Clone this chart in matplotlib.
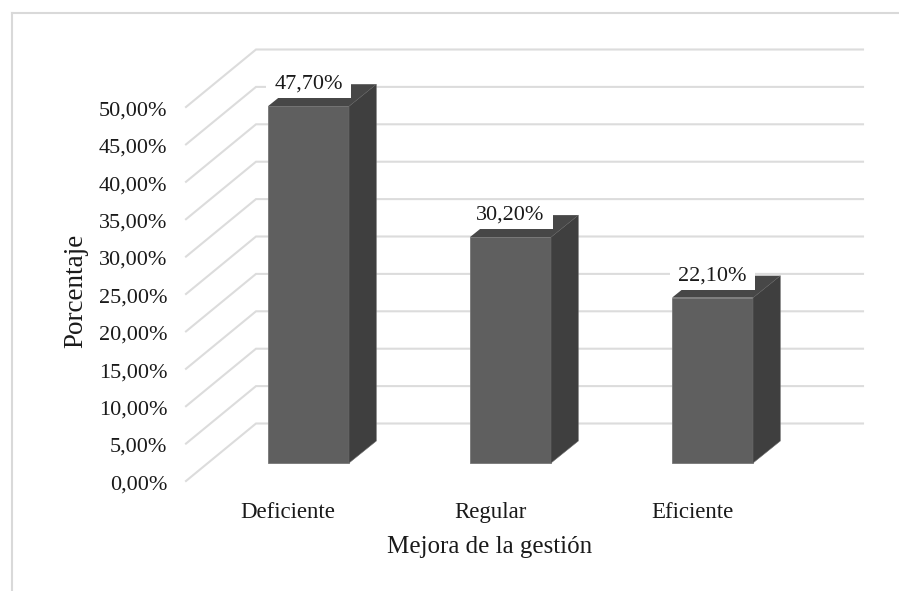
import matplotlib
matplotlib.use("Agg")
import matplotlib.pyplot as plt
from matplotlib.lines import Line2D
from matplotlib.patches import Polygon, Rectangle
from matplotlib.transforms import ScaledTranslation

categories = ["Deficiente", "Regular", "Eficiente"]
values = [47.7, 30.2, 22.1]
value_labels = ["47,70%", "30,20%", "22,10%"]
y_ticks = [0, 5, 10, 15, 20, 25, 30, 35, 40, 45, 50]
y_tick_labels = ["0,00%", "5,00%", "10,00%", "15,00%", "20,00%", "25,00%",
                 "30,00%", "35,00%", "40,00%", "45,00%", "50,00%"]
x_title = "Mejora de la gestión"
y_title = "Porcentaje"

W, H = 899, 591
FACE, SIDE, TOP = "#5f5f5f", "#3f3f3f", "#474747"
GRID = "#dcdcdc"
TEXT = "#1a1a1a"
FONT = "Liberation Serif"

# Axes rectangle in pixels; y runs along the front edge of the floor
left, right, bottom, top = 186, 863, 481, 49.5
px_x = 202.0   # pixels per category
px_y = 7.48    # pixels per percentage point
first_bar = 308.5

fig = plt.figure(figsize=(W / 100, H / 100), dpi=100, facecolor="white")
ax = fig.add_axes([left / W, 1 - bottom / H, (right - left) / W, (bottom - top) / H])
ax.set_xlim((left - first_bar) / px_x, (right - first_bar) / px_x)
ax.set_ylim(0, (bottom - top) / px_y)
for spine in ax.spines.values():
    spine.set_visible(False)
ax.patch.set_visible(False)

# Oblique projection of the depth axis
wall_dx, wall_dy = 70 / px_x, 57.5 / px_y
bar_dx, bar_dy = 27.3 / px_x, 22 / px_y
bar_lift = 18 / px_y
bar_width = 81 / px_x

# Gridlines: side wall, then back wall
x0, x1 = ax.get_xlim()
for v in y_ticks:
    ax.plot([x0, x0 + wall_dx, x1], [v, v + wall_dy, v + wall_dy],
            color=GRID, lw=1.5, clip_on=False, zorder=1, solid_joinstyle="miter")

# Three visible faces of each bar
positions = range(len(categories))
ax.bar(positions, values, width=bar_width, bottom=bar_lift, color=FACE,
       edgecolor="#777777", linewidth=0.6, zorder=3)
for i, v in zip(positions, values):
    xl, xr = i - bar_width / 2, i + bar_width / 2
    yb, yt = bar_lift, bar_lift + v
    ax.add_patch(Polygon([(xr, yb), (xr + bar_dx, yb + bar_dy),
                          (xr + bar_dx, yt + bar_dy), (xr, yt)],
                         closed=True, facecolor=SIDE, edgecolor="#6a6a6a",
                         linewidth=0.4, zorder=3, clip_on=False))
    ax.add_patch(Polygon([(xl, yt), (xl + bar_dx, yt + bar_dy),
                          (xr + bar_dx, yt + bar_dy), (xr, yt)],
                         closed=True, facecolor=TOP, edgecolor="none",
                         zorder=3, clip_on=False))

# Value labels on white boxes, straddling the bar tops
box_w, box_h, box_gap = 85 / px_x, 28 / px_y, 8 / px_y
for i, v, s in zip(positions, values, value_labels):
    yt = bar_lift + v
    ax.add_patch(Rectangle((i - box_w / 2, yt + box_gap), box_w, box_h,
                           facecolor="white", edgecolor="none", zorder=4,
                           clip_on=False))
    ax.annotate(s, (i, yt), xytext=(0, 15.6), textcoords="offset points",
                ha="center", va="center", family=FONT, fontsize=16, color=TEXT,
                zorder=5, annotation_clip=False)

ax.set_yticks(y_ticks)
ax.set_yticklabels(y_tick_labels, family=FONT, fontsize=16, color=TEXT)
# Category labels follow the bars' footprint on the floor
label_shift = -20.5 / px_x
ax.set_xticks([i + label_shift for i in positions])
ax.set_xticklabels(categories, family=FONT, fontsize=16.5, color=TEXT)
ax.tick_params(axis="y", length=0, pad=13.3)
ax.tick_params(axis="x", length=0, pad=15)

# Value tick labels sit slightly below their gridline ends
nudge = ScaledTranslation(0, -1 / 72, fig.dpi_scale_trans)
for lab in ax.get_yticklabels():
    lab.set_transform(lab.get_transform() + nudge)

fig.text(490 / W, 1 - 547 / H, x_title, ha="center", va="center",
         family=FONT, fontsize=18, color=TEXT)
fig.text(76 / W, 1 - 291 / H, y_title, ha="center", va="center", rotation=90,
         family=FONT, fontsize=19.5, color=TEXT)

# Chart area border along the top and left edges
fig.add_artist(Line2D([11.5 / W, 1], [1 - 12.5 / H, 1 - 12.5 / H], color="#d9d9d9", lw=1.5))
fig.add_artist(Line2D([11.5 / W, 11.5 / W], [0, 1 - 12.5 / H], color="#d9d9d9", lw=1.5))

fig.savefig("out.png", dpi=100)
